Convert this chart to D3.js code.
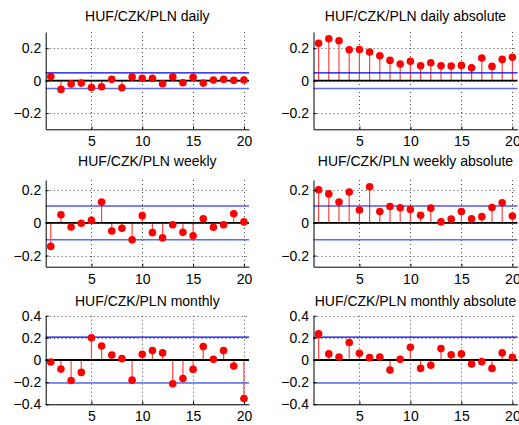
<!DOCTYPE html>
<html lang="en">
<head>
  <meta charset="UTF-8">
  <title>ACF HUF/CZK/PLN</title>
  <style>
    body { margin: 0; background: #fff; }
    svg { display: block; font-family: "Liberation Sans", Arial, sans-serif; }
  </style>
</head>
<body>
  <svg id="chart" width="519" height="425"></svg>
  <script src="https://d3js.org/d3.v7.min.js"></script>
  <script>
    // lags 1..20
    var lags = d3.range(1, 21);
    var xTicks = [5, 10, 15, 20];

    var dailyAcf = [0.025, -0.054, -0.02, -0.015, -0.042, -0.038, 0.008, -0.044, 0.023, 0.015,
                    0.015, -0.019, 0.023, -0.013, 0.021, -0.015, 0.004, 0.008, 0.002, 0.004];
    var dailyAbsAcf = [0.231, 0.258, 0.246, 0.19, 0.192, 0.177, 0.154, 0.125, 0.102, 0.119,
                       0.092, 0.11, 0.092, 0.09, 0.094, 0.079, 0.14, 0.088, 0.131, 0.144];
    var weeklyAcf = [-0.144, 0.05, -0.025, -0.002, 0.015, 0.127, -0.05, -0.033, -0.104, 0.044,
                     -0.06, -0.092, -0.012, -0.058, -0.079, 0.025, -0.027, -0.012, 0.056, 0.006];
    var weeklyAbsAcf = [0.202, 0.177, 0.127, 0.188, 0.079, 0.221, 0.069, 0.1, 0.092, 0.081,
                        0.046, 0.09, 0.006, 0.023, 0.069, 0.025, 0.038, 0.094, 0.123, 0.042];
    var monthlyAcf = [-0.018, -0.082, -0.185, -0.112, 0.2, 0.127, 0.045, 0.012, -0.182, 0.052,
                      0.085, 0.064, -0.215, -0.167, -0.085, 0.121, 0.006, 0.085, -0.055, -0.348];
    var monthlyAbsAcf = [0.236, 0.055, 0.027, 0.158, 0.061, 0.021, 0.027, -0.091, 0.006, 0.115,
                         -0.076, -0.048, 0.103, 0.048, 0.055, -0.036, -0.015, -0.076, 0.064, 0.024];

    // confidence bounds per frequency
    var confBounds = [0.048, 0.103, 0.207];
    var rowTitles = ["HUF/CZK/PLN daily", "HUF/CZK/PLN weekly", "HUF/CZK/PLN monthly"];
    var rowYTicks = [[-0.2, 0, 0.2], [-0.2, 0, 0.2], [-0.4, -0.2, 0, 0.2, 0.4]];
    var rowYDomains = [[-0.3, 0.3], [-0.268, 0.262], [-0.4, 0.4]];

    var panels = [
      {row: 0, col: 0, title: rowTitles[0], values: dailyAcf},
      {row: 0, col: 1, title: rowTitles[0] + " absolute", values: dailyAbsAcf},
      {row: 1, col: 0, title: rowTitles[1], values: weeklyAcf},
      {row: 1, col: 1, title: rowTitles[1] + " absolute", values: weeklyAbsAcf},
      {row: 2, col: 0, title: rowTitles[2], values: monthlyAcf},
      {row: 2, col: 1, title: rowTitles[2] + " absolute", values: monthlyAbsAcf}
    ];

    // layout (pixels)
    var colX = [[45.7, 249], [313.5, 517.5]];
    var rowY = [[32, 129.3], [180, 266.7], [315.7, 404.3]];
    var titleY = [21, 166, 306];

    var svg = d3.select("#chart");
    var fmt = function(d) { return d === 0 ? "0" : d3.format(".1f")(d).replace("-", "\u2212"); };

    panels.forEach(function(p) {
      var x = d3.scaleLinear().domain([0.5, 20.5]).range(colX[p.col]);
      var y = d3.scaleLinear().domain(rowYDomains[p.row]).range([rowY[p.row][1], rowY[p.row][0]]);
      var g = svg.append("g");
      var x0 = colX[p.col][0], x1 = colX[p.col][1];
      var yTop = rowY[p.row][0], yBot = rowY[p.row][1];

      // dotted grid
      g.selectAll(".gx").data(xTicks).enter().append("line")
        .attr("x1", d => Math.round(x(d)) + 0.5).attr("x2", d => Math.round(x(d)) + 0.5)
        .attr("y1", yTop).attr("y2", yBot)
        .attr("stroke", "#444").attr("stroke-dasharray", "1,3");
      g.selectAll(".gy").data(rowYTicks[p.row]).enter().append("line")
        .attr("x1", x0).attr("x2", x1)
        .attr("y1", d => Math.round(y(d)) + 0.5).attr("y2", d => Math.round(y(d)) + 0.5)
        .attr("stroke", "#444").attr("stroke-dasharray", "1,3");

      // stems
      g.selectAll(".stem").data(p.values).enter().append("line")
        .attr("x1", (d, i) => x(lags[i])).attr("x2", (d, i) => x(lags[i]))
        .attr("y1", y(0)).attr("y2", d => y(d))
        .attr("stroke", "#f44").attr("stroke-width", 1.2);

      // zero line
      g.append("line").attr("x1", x0).attr("x2", x1)
        .attr("y1", y(0)).attr("y2", y(0))
        .attr("stroke", "#000").attr("stroke-width", 1.8);

      // confidence bounds
      var cb = confBounds[p.row];
      g.append("line").attr("x1", x0).attr("x2", x1)
        .attr("y1", y(cb)).attr("y2", y(cb))
        .attr("stroke", "#0000ee").attr("stroke-width", 1.2);
      g.append("line").attr("x1", x0).attr("x2", x1)
        .attr("y1", y(-cb)).attr("y2", y(-cb))
        .attr("stroke", "#5a6cf5").attr("stroke-width", 1.6);

      // markers
      g.selectAll(".dot").data(p.values).enter().append("circle")
        .attr("cx", (d, i) => x(lags[i])).attr("cy", d => y(d))
        .attr("r", 3.8).attr("fill", "#ff0000");

      // axes
      var xAxis = d3.axisBottom(x).tickValues(xTicks).tickSizeInner(-3).tickSizeOuter(0).tickPadding(7);
      var yAxis = d3.axisLeft(y).tickValues(rowYTicks[p.row]).tickFormat(fmt).tickSizeInner(-3).tickSizeOuter(0).tickPadding(4.5);
      var ax = g.append("g").attr("transform", "translate(0," + yBot + ")").call(xAxis);
      var ay = g.append("g").attr("transform", "translate(" + x0 + ",0)").call(yAxis);
      [ax, ay].forEach(function(a) {
        a.selectAll("text").attr("font-size", 14).attr("fill", "#000")
          .attr("font-family", "'Liberation Sans', Arial, sans-serif");
        a.selectAll("line, path").attr("stroke", "#000");
      });

      // title
      g.append("text").attr("x", (x0 + x1) / 2).attr("y", titleY[p.row])
        .attr("text-anchor", "middle").attr("font-size", 14).attr("fill", "#000")
        .text(p.title);
    });
  </script>
</body>
</html>
